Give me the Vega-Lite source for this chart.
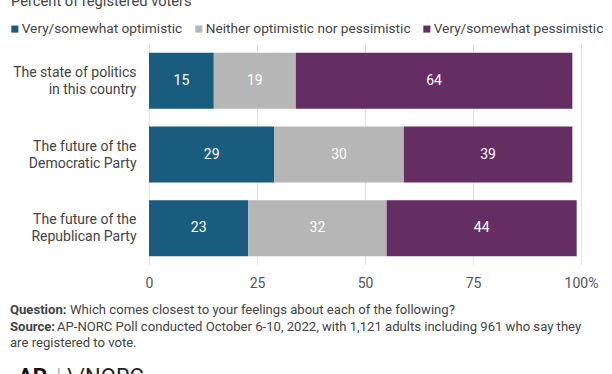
{
  "$schema": "https://vega.github.io/schema/vega-lite/v6.json",
  "width": 432,
  "height": 221,
  "autosize": {"type": "none"},
  "padding": {"left": 149, "top": 44, "right": 31, "bottom": 109},
  "background": "white",
  "config": {
    "font": "Roboto",
    "view": {"stroke": null},
    "text": {"font": "Roboto"}
  },
  "data": {
    "values": [
      {"item": "The state of politics in this country", "response": "Very/somewhat optimistic", "order": 1, "value": 15},
      {"item": "The state of politics in this country", "response": "Neither optimistic nor pessimistic", "order": 2, "value": 19},
      {"item": "The state of politics in this country", "response": "Very/somewhat pessimistic", "order": 3, "value": 64},
      {"item": "The future of the Democratic Party", "response": "Very/somewhat optimistic", "order": 1, "value": 29},
      {"item": "The future of the Democratic Party", "response": "Neither optimistic nor pessimistic", "order": 2, "value": 30},
      {"item": "The future of the Democratic Party", "response": "Very/somewhat pessimistic", "order": 3, "value": 39},
      {"item": "The future of the Republican Party", "response": "Very/somewhat optimistic", "order": 1, "value": 23},
      {"item": "The future of the Republican Party", "response": "Neither optimistic nor pessimistic", "order": 2, "value": 32},
      {"item": "The future of the Republican Party", "response": "Very/somewhat pessimistic", "order": 3, "value": 44}
    ]
  },
  "layer": [
    {
      "transform": [
        {"stack": "value", "groupby": ["item"], "sort": [{"field": "order"}], "as": ["x0", "x1"]},
        {"calculate": "(datum.x0 + datum.x1) / 2", "as": "mid"}
      ],
      "layer": [
        {
          "mark": {"type": "bar"},
          "encoding": {
            "y": {
              "field": "item",
              "type": "nominal",
              "sort": null,
              "scale": {"paddingInner": 0.24, "paddingOuter": 0.12},
              "axis": {
                "title": null,
                "domain": false,
                "ticks": false,
                "grid": false,
                "labelPadding": 13,
                "labelFontSize": 14,
                "labelColor": "#444444",
                "labelLineHeight": 17,
                "labelOffset": -8,
                "labelFont": "Roboto",
                "labelExpr": "datum.label == 'The state of politics in this country' ? ['The state of politics', 'in this country'] : datum.label == 'The future of the Democratic Party' ? ['The future of the', 'Democratic Party'] : ['The future of the', 'Republican Party']"
              }
            },
            "x": {
              "field": "x0",
              "type": "quantitative",
              "scale": {"domain": [0, 100], "nice": false},
              "axis": {
                "title": null,
                "values": [0, 25, 50, 75, 100],
                "domain": false,
                "ticks": false,
                "grid": true,
                "gridColor": "#e2e2e2",
                "gridWidth": 1,
                "labelPadding": 11,
                "labelFontSize": 14,
                "labelColor": "#555555",
                "labelFont": "Roboto",
                "labelFlush": false,
                "labelExpr": "datum.value == 100 ? '\u2007100%' : datum.label"
              }
            },
            "x2": {"field": "x1"},
            "color": {
              "field": "response",
              "type": "nominal",
              "scale": {
                "domain": ["Very/somewhat optimistic", "Neither optimistic nor pessimistic", "Very/somewhat pessimistic"],
                "range": ["#1a5c7e", "#b6b6b6", "#652e63"]
              },
              "legend": {
                "title": null,
                "orient": "none",
                "direction": "horizontal",
                "legendX": -141,
                "legendY": -22,
                "padding": 0,
                "symbolType": "square",
                "symbolSize": 50,
                "symbolStrokeWidth": 0,
                "symbolOpacity": 1,
                "labelFontSize": 13.7,
                "labelColor": "#444444",
                "labelFont": "Roboto",
                "labelOffset": 0,
                "columnPadding": 9,
                "labelLimit": 300
              }
            }
          }
        },
        {
          "mark": {"type": "text", "color": "white", "fontSize": 14, "font": "Roboto", "baseline": "middle", "align": "center"},
          "encoding": {
            "y": {"field": "item", "type": "nominal", "sort": null},
            "x": {"field": "mid", "type": "quantitative"},
            "text": {"field": "value", "type": "quantitative"}
          }
        }
      ]
    },
    {
      "data": {"values": [{"t": "Percent of registered voters"}]},
      "mark": {"type": "text", "fontSize": 14.7, "color": "#444444", "align": "left", "baseline": "alphabetic", "x": -138, "y": -38},
      "encoding": {"text": {"field": "t"}}
    },
    {
      "data": {"values": [{"t": "Question:"}]},
      "mark": {"type": "text", "fontSize": 13.1, "fontWeight": "bold", "color": "#444444", "align": "left", "baseline": "middle", "x": -139, "y": 266},
      "encoding": {"text": {"field": "t"}}
    },
    {
      "data": {"values": [{"t": "Which comes closest to your feelings about each of the following?"}]},
      "mark": {"type": "text", "fontSize": 13.1, "color": "#444444", "align": "left", "baseline": "middle", "x": -79, "y": 266},
      "encoding": {"text": {"field": "t"}}
    },
    {
      "data": {"values": [{"t": "Source:"}]},
      "mark": {"type": "text", "fontSize": 13.1, "fontWeight": "bold", "color": "#444444", "align": "left", "baseline": "middle", "x": -139, "y": 283},
      "encoding": {"text": {"field": "t"}}
    },
    {
      "data": {"values": [{"t": "AP-NORC Poll conducted October 6-10, 2022, with 1,121 adults including 961 who say they"}]},
      "mark": {"type": "text", "fontSize": 13.1, "color": "#444444", "align": "left", "baseline": "middle", "x": -92, "y": 283},
      "encoding": {"text": {"field": "t"}}
    },
    {
      "data": {"values": [{"t": "are registered to vote."}]},
      "mark": {"type": "text", "fontSize": 13.1, "color": "#444444", "align": "left", "baseline": "middle", "x": -139, "y": 299},
      "encoding": {"text": {"field": "t"}}
    },
    {
      "data": {"values": [{"t": "AP"}]},
      "mark": {"type": "text", "fontSize": 22, "fontWeight": "bold", "color": "#111111", "align": "left", "baseline": "top", "x": -131, "y": 323},
      "encoding": {"text": {"field": "t"}}
    },
    {
      "data": {"values": [{"t": "|"}]},
      "mark": {"type": "text", "fontSize": 22, "color": "#bbbbbb", "align": "left", "baseline": "top", "x": -93, "y": 323},
      "encoding": {"text": {"field": "t"}}
    },
    {
      "data": {"values": [{"t": "\\/NORC"}]},
      "mark": {"type": "text", "fontSize": 22, "color": "#222222", "align": "left", "baseline": "top", "x": -82, "y": 323},
      "encoding": {"text": {"field": "t"}}
    }
  ]
}
